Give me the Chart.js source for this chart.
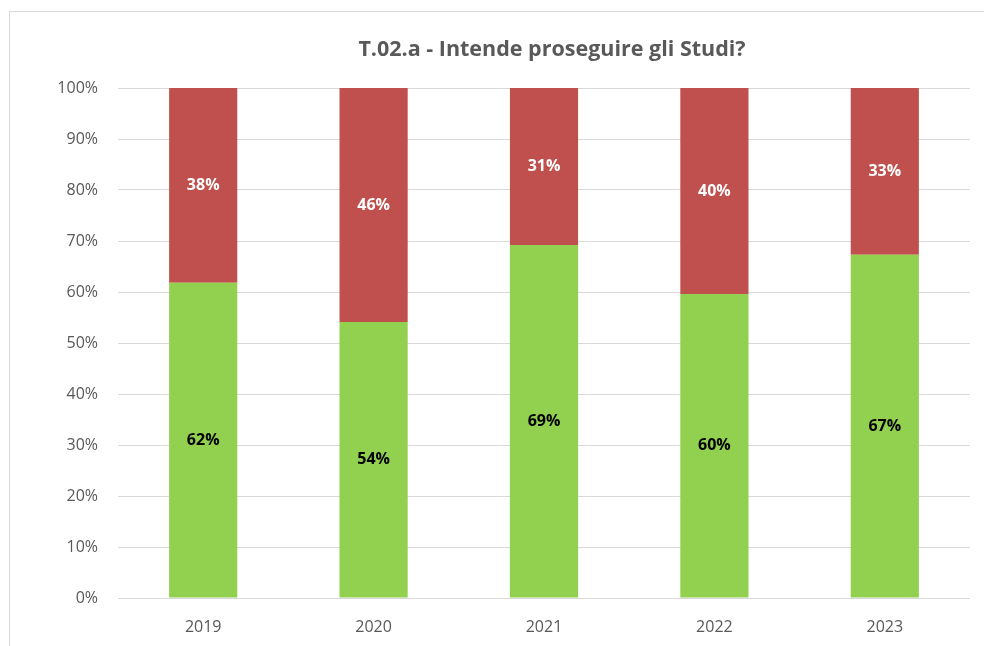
<!DOCTYPE html>
<html>
<head>
<meta charset="utf-8">
<script src="https://cdn.jsdelivr.net/npm/chart.js@4"></script>
<style>
  body { margin: 0; background: #fff; overflow: hidden; }
  #frame { position: absolute; left: 9px; top: 11px; width: 1000px; height: 700px; border: 1px solid #d9d9d9; }
  #wrap { position: absolute; left: 0; top: 0; width: 984px; height: 646px; }
</style>
</head>
<body>
<div id="frame"></div>
<div id="wrap"><canvas id="chart"></canvas></div>
<script>
var years = ['2019', '2020', '2021', '2022', '2023'];
var siValues = [61.8, 54.1, 69.2, 59.6, 67.3];
var noValues = [38.2, 45.9, 30.8, 40.4, 32.7];
var titleText = 'T.02.a - Intende proseguire gli Studi?';

var textColor = '#595959';
var fontName = "'Open Sans', 'Noto Sans', sans-serif";

// scrive le percentuali al centro di ogni segmento, e il titolo
var labelPlugin = {
  id: 'barLabels',
  afterDatasetsDraw: function(chart) {
    var ctx = chart.ctx;
    ctx.save();
    ctx.font = 'bold 16px ' + fontName;
    ctx.textAlign = 'center';
    ctx.textBaseline = 'middle';
    chart.data.datasets.forEach(function(ds, i) {
      var meta = chart.getDatasetMeta(i);
      meta.data.forEach(function(bar, j) {
        ctx.fillStyle = i == 0 ? '#000000' : '#ffffff';
        var mid = (bar.y + bar.base) / 2;
        ctx.fillText(Math.round(ds.data[j]) + '%', bar.x, mid);
      });
    });
    // titolo
    ctx.font = 'bold 21.5px ' + fontName;
    ctx.fillStyle = textColor;
    ctx.fillText(titleText, 552, 50);
    ctx.restore();
  }
};

var chart = new Chart(document.getElementById('chart'), {
  type: 'bar',
  data: {
    labels: years,
    datasets: [{
      label: 'Sì',
      data: siValues,
      backgroundColor: '#92D050',
      categoryPercentage: 1,
      barPercentage: 0.4
    }, {
      label: 'No',
      data: noValues,
      backgroundColor: '#C0504D',
      categoryPercentage: 1,
      barPercentage: 0.4
    }]
  },
  options: {
    responsive: true,
    maintainAspectRatio: false,
    animation: false,
    layout: { padding: { left: 0, right: 14, top: 88, bottom: 0 } },
    plugins: {
      legend: { display: false },
      tooltip: { enabled: false },
      title: { display: false }
    },
    scales: {
      x: {
        stacked: true,
        grid: { display: false, drawTicks: false },
        border: { display: false },
        ticks: { color: textColor, font: { family: fontName, size: 16 }, padding: 20 },
        afterFit: function(s) { s.height = 48; }
      },
      y: {
        stacked: true,
        min: 0,
        max: 100,
        grid: { color: '#d9d9d9', lineWidth: 1, drawTicks: false },
        border: { display: false },
        ticks: {
          stepSize: 10,
          color: textColor,
          font: { family: fontName, size: 16 },
          padding: 20,
          callback: function(v) { return v + '%'; }
        },
        afterFit: function(s) { s.width = 118; }
      }
    }
  },
  plugins: [labelPlugin]
});
</script>
</body>
</html>
